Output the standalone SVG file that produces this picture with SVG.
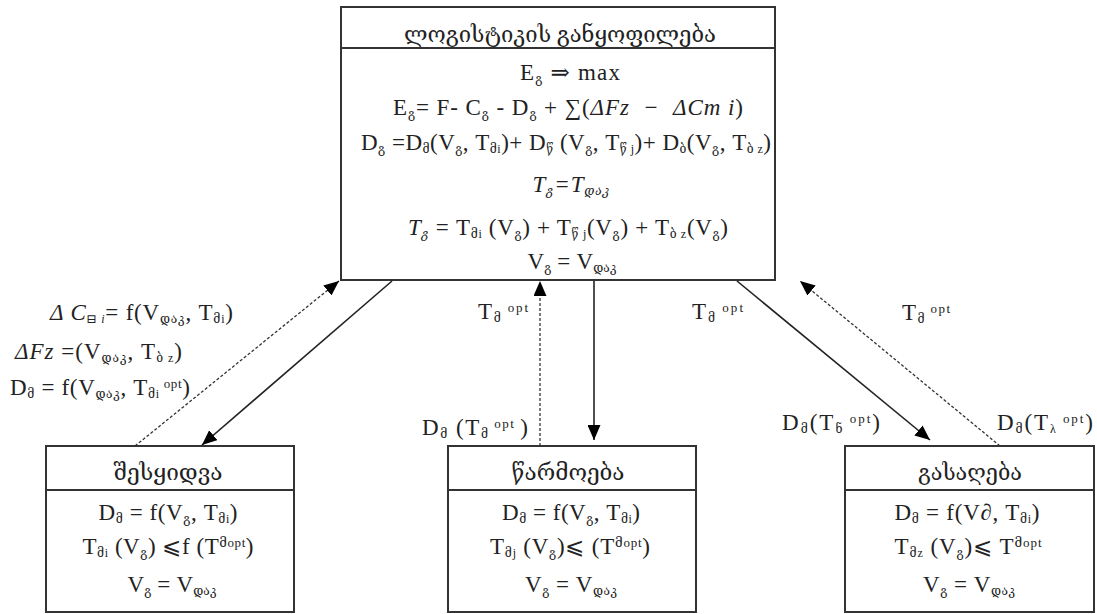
<svg xmlns="http://www.w3.org/2000/svg" width="1097" height="614" viewBox="0 0 1097 614">
<defs>
<marker id="ahl" viewBox="0 0 10 10" refX="10" refY="5" markerWidth="15" markerHeight="13" markerUnits="userSpaceOnUse" orient="auto" preserveAspectRatio="none">
<path d="M0,0 L10,5 L0,10 z" fill="#000"/>
</marker>
</defs>
<style>
text{font-family:"Liberation Serif","DejaVu Serif",serif;fill:#222;font-size:23px}
.c{text-anchor:middle}
.t{font-size:22px}
.sub{font-size:12px;baseline-shift:-3px}
.sup{font-size:13px;baseline-shift:7px}
.i{font-style:italic}
.box{fill:#fff;stroke:#333;stroke-width:2}
.div{stroke:#333;stroke-width:2}
.ln{stroke:#222;stroke-width:1.6;fill:none}
.dash{stroke:#333;stroke-width:1.3;fill:none;stroke-dasharray:3 2}
.lbl{font-size:23px}
</style>
<rect width="1097" height="614" fill="#fff"/>

<g id="logistics">
<rect class="box" x="341" y="7" width="434" height="273"/>
<line class="div" x1="341" y1="48" x2="775" y2="48"/>
<text class="c t" x="560" y="42" textLength="312" lengthAdjust="spacingAndGlyphs">ლოგისტიკის განყოფილება</text>
<text class="c" x="570" y="80" textLength="100">E<tspan class="sub">გ</tspan> ⇒ max</text>
<text class="c" x="568" y="115" xml:space="preserve" textLength="350">E<tspan class="sub">გ</tspan>= F- C<tspan class="sub">გ</tspan> - D<tspan class="sub">გ</tspan> + ∑(<tspan class="i">ΔFz  −  ΔCm i</tspan>)</text>
<text class="c" x="566" y="150" textLength="410">D<tspan class="sub">გ</tspan> =D<tspan class="sub">მ</tspan>(V<tspan class="sub">გ</tspan>, T<tspan class="sub">მi</tspan>)+ D<tspan class="sub">წ</tspan> (V<tspan class="sub">გ</tspan>, T<tspan class="sub">წ j</tspan>)+ D<tspan class="sub">ბ</tspan>(V<tspan class="sub">გ</tspan>, T<tspan class="sub">ბ z</tspan>)</text>
<text class="c i" x="571" y="192" textLength="77">T<tspan class="sub">გ</tspan>=T<tspan class="sub">დაკ</tspan></text>
<text class="c" x="568" y="235" textLength="320"><tspan class="i">T<tspan class="sub">გ</tspan></tspan> = T<tspan class="sub">მi</tspan> (V<tspan class="sub">გ</tspan>) + T<tspan class="sub">წ j</tspan>(V<tspan class="sub">გ</tspan>) + T<tspan class="sub">ბ z</tspan>(V<tspan class="sub">გ</tspan>)</text>
<text class="c" x="572" y="269" textLength="89">V<tspan class="sub">გ</tspan> = V<tspan class="sub">დაკ</tspan></text>
</g>

<g id="purchase">
<rect class="box" x="46" y="446" width="248" height="166"/>
<line class="div" x1="46" y1="490" x2="294" y2="490"/>
<text class="c t" x="168" y="480" textLength="109" lengthAdjust="spacingAndGlyphs">შესყიდვა</text>
<text class="c" x="168" y="520" textLength="139">D<tspan class="sub">მ</tspan> = f(V<tspan class="sub">გ</tspan>, T<tspan class="sub">მi</tspan>)</text>
<text class="c" x="168" y="554" textLength="171">T<tspan class="sub">მi</tspan> (V<tspan class="sub">გ</tspan>) ⩽f (T<tspan class="sup">მopt</tspan>)</text>
<text class="c" x="172" y="592" textLength="89">V<tspan class="sub">გ</tspan> = V<tspan class="sub">დაკ</tspan></text>
</g>

<g id="production">
<rect class="box" x="448" y="446" width="248" height="166"/>
<line class="div" x1="448" y1="490" x2="696" y2="490"/>
<text class="c t" x="568" y="480" textLength="113" lengthAdjust="spacingAndGlyphs">წარმოება</text>
<text class="c" x="571" y="520" textLength="138">D<tspan class="sub">მ</tspan> = f(V<tspan class="sub">გ</tspan>, T<tspan class="sub">მi</tspan>)</text>
<text class="c" x="570" y="554" textLength="160">T<tspan class="sub">მj</tspan> (V<tspan class="sub">გ</tspan>)⩽ (T<tspan class="sup">მopt</tspan>)</text>
<text class="c" x="571" y="592" textLength="92">V<tspan class="sub">გ</tspan> = V<tspan class="sub">დაკ</tspan></text>
</g>

<g id="sales">
<rect class="box" x="845" y="446" width="249" height="166"/>
<line class="div" x1="845" y1="490" x2="1094" y2="490"/>
<text class="c t" x="970" y="480" textLength="104" lengthAdjust="spacingAndGlyphs">გასაღება</text>
<text class="c" x="967" y="520" textLength="145">D<tspan class="sub">მ</tspan> = f(V∂, T<tspan class="sub">მi</tspan>)</text>
<text class="c" x="968" y="554" textLength="147">T<tspan class="sub">მz</tspan> (V<tspan class="sub">გ</tspan>)⩽ T<tspan class="sup">მopt</tspan></text>
<text class="c" x="969" y="592" textLength="92">V<tspan class="sub">გ</tspan> = V<tspan class="sub">დაკ</tspan></text>
</g>

<g id="connectors">
<line class="dash" x1="135" y1="446" x2="339" y2="281" marker-end="url(#ahl)"/>
<line class="ln" x1="392" y1="281" x2="202" y2="445" marker-end="url(#ahl)"/>
<line class="dash" x1="540" y1="446" x2="540" y2="281" marker-end="url(#ahl)"/>
<line class="ln" x1="594" y1="281" x2="594" y2="440" marker-end="url(#ahl)"/>
<line class="ln" x1="737" y1="281" x2="930" y2="440" marker-end="url(#ahl)"/>
<line class="dash" x1="1000" y1="446" x2="800" y2="281" marker-end="url(#ahl)"/>
</g>

<g id="labels">
<text class="lbl" x="50" y="320" textLength="183"><tspan class="i">Δ C</tspan><tspan class="sub">⊟ <tspan class="i">i</tspan></tspan>= f(V<tspan class="sub">დაკ</tspan>, T<tspan class="sub">მi</tspan>)</text>
<text class="lbl" x="15" y="359" textLength="167"><tspan class="i">ΔFz</tspan> =(V<tspan class="sub">დაკ</tspan>, T<tspan class="sub">ბ z</tspan>)</text>
<text class="lbl" x="10" y="395" textLength="180">D<tspan class="sub">მ</tspan> = f(V<tspan class="sub">დაკ</tspan>, T<tspan class="sub">მi</tspan><tspan class="sup"> opt</tspan>)</text>
<text class="lbl" x="478" y="319" textLength="50">T<tspan class="sub">მ</tspan><tspan class="sup"> opt</tspan></text>
<text class="lbl" x="422" y="435" textLength="106">D<tspan class="sub">მ</tspan> (T<tspan class="sub">მ</tspan><tspan class="sup"> opt </tspan>)</text>
<text class="lbl" x="692" y="319" textLength="51">T<tspan class="sub">მ</tspan><tspan class="sup"> opt</tspan></text>
<text class="lbl" x="902" y="320" textLength="48">T<tspan class="sub">მ</tspan><tspan class="sup"> opt</tspan></text>
<text class="lbl" x="782" y="430" textLength="98">D<tspan class="sub">მ</tspan>(T<tspan class="sub">ნ</tspan><tspan class="sup"> opt</tspan>)</text>
<text class="lbl" x="997" y="430" textLength="96">D<tspan class="sub">მ</tspan>(T<tspan class="sub">λ</tspan><tspan class="sup"> opt</tspan>)</text>
</g>
</svg>
